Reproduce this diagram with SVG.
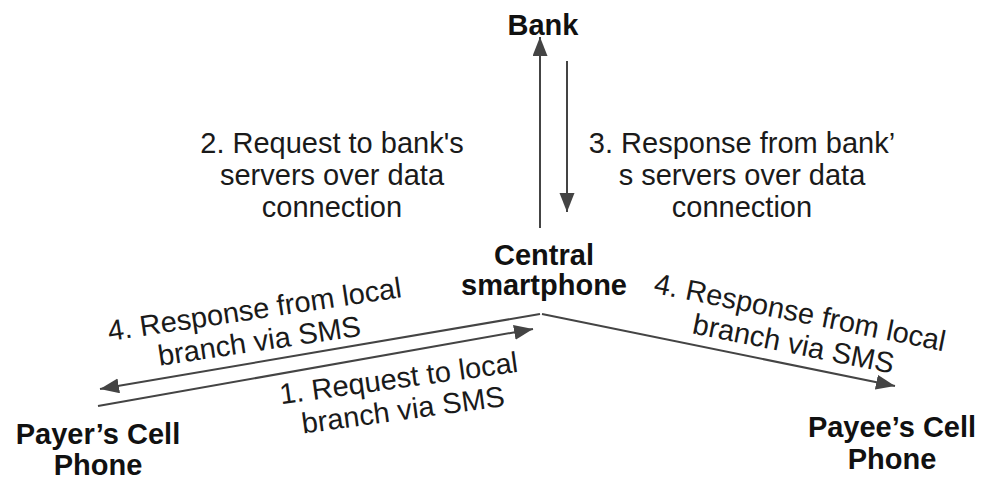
<svg xmlns="http://www.w3.org/2000/svg" width="986" height="481" viewBox="0 0 986 481">
<style>
.lbl{font-family:"Liberation Sans",Arial,sans-serif;font-size:29px;fill:#1a1a1a;text-anchor:middle}
.node{font-family:"Liberation Sans",Arial,sans-serif;font-size:29px;font-weight:bold;fill:#111;text-anchor:middle}
.conn{stroke:#444;stroke-width:2;fill:none;marker-end:url(#ah)}
</style>
<defs>
<marker id="ah" markerUnits="userSpaceOnUse" markerWidth="20" markerHeight="16" refX="19" refY="7.5" orient="auto">
<path d="M0,0 L19,7.5 L0,15 z" fill="#444"/>
</marker>
</defs>
<rect width="986" height="481" fill="#fff"/>
<g id="bank"><text class="node" x="543" y="35">Bank</text></g>
<g id="central"><text class="node" x="544" y="265">Central</text><text class="node" x="544" y="295">smartphone</text></g>
<g id="payer"><text class="node" x="98" y="444">Payer’s Cell</text><text class="node" x="98" y="475">Phone</text></g>
<g id="payee"><text class="node" x="892" y="437">Payee’s Cell</text><text class="node" x="892" y="469">Phone</text></g>
<g id="connectors">
<line class="conn" x1="540" y1="228" x2="540" y2="37"/>
<line class="conn" x1="567" y1="61" x2="567" y2="212"/>
<line class="conn" x1="540" y1="314" x2="100" y2="389"/>
<line class="conn" x1="98" y1="406" x2="533" y2="329"/>
<line class="conn" x1="542" y1="314" x2="895" y2="386"/>
</g>
<g id="labels">
<text class="lbl" x="332" y="153">2. Request to bank's</text>
<text class="lbl" x="332" y="185">servers over data</text>
<text class="lbl" x="332" y="217">connection</text>
<text class="lbl" x="742" y="153">3. Response from bank’</text>
<text class="lbl" x="742" y="185">s servers over data</text>
<text class="lbl" x="742" y="217">connection</text>
<g transform="translate(256,319) rotate(-8.5)"><text class="lbl" x="0" y="0">4. Response from local</text><text class="lbl" x="0" y="32">branch via SMS</text></g>
<g transform="translate(400,388) rotate(-7.8)"><text class="lbl" x="0" y="0">1. Request to local</text><text class="lbl" x="0" y="32">branch via SMS</text></g>
<g transform="translate(798,322) rotate(11.4)"><text class="lbl" x="0" y="0">4. Response from local</text><text class="lbl" x="0" y="32">branch via SMS</text></g>
</g>
</svg>
